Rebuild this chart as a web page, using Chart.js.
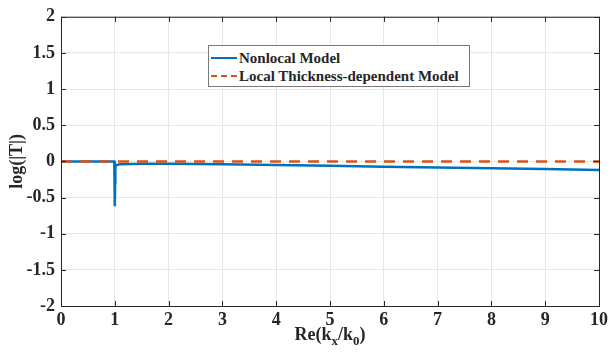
<!DOCTYPE html>
<html lang="en">
<head>
  <meta charset="UTF-8">
  <title>log(|T|) vs Re(kx/k0)</title>
  <script src="https://cdn.jsdelivr.net/npm/chart.js"></script>
  <style>
    html, body {
      margin: 0;
      padding: 0;
      background: #ffffff;
    }
    #wrap {
      position: relative;
      width: 612px;
      height: 358px;
    }
    #legendBox {
      position: absolute;
      left: 208px;
      top: 45px;
      width: 262px;
      height: 42px;
      background: #fff;
      border: 1px solid #7a7a7a;
      font-family: "Liberation Serif", serif;
      font-weight: bold;
      font-size: 15px;
      color: #262626;
      box-sizing: border-box;
      padding: 3px 0 0 2px;
      line-height: 18px;
    }
    #legendBox .row { display: flex; align-items: center; white-space: nowrap; }
    #legendBox .sw { width: 26px; height: 0; margin-right: 2px; }
  </style>
</head>
<body>
  <div id="wrap">
    <canvas id="chart" width="612" height="358"></canvas>
    <div id="legendBox">
      <div class="row"><span class="sw" style="border-top:2.5px solid #0072BD"></span>Nonlocal Model</div>
      <div class="row"><span class="sw" style="border-top:2.5px dashed #D95319"></span>Local Thickness-dependent Model</div>
    </div>
  </div>

  <script>
    // data
    const nonlocalX = [0, 0.5, 0.99, 1.0, 1.005, 1.01, 1.03, 1.1, 1.3, 1.6, 2, 3, 4, 5, 6, 7, 8, 9, 10];
    const nonlocalY = [0, 0, 0, -0.62, -0.3, -0.07, -0.05, -0.04, -0.035, -0.033, -0.033, -0.04, -0.05, -0.06, -0.073, -0.085, -0.095, -0.106, -0.12];
    const localX = [0, 10];
    const localY = [0, 0];
    const xTicks = [0, 1, 2, 3, 4, 5, 6, 7, 8, 9, 10];
    const yTicks = [-2, -1.5, -1, -0.5, 0, 0.5, 1, 1.5, 2];

    const pts = (xs, ys) => xs.map((x, i) => ({ x, y: ys[i] }));
    const serif = "Liberation Serif";

    // box, inward ticks and axis titles like the original figure
    const frame = {
      id: 'frame',
      afterDraw(chart) {
        const { ctx, chartArea: a, scales } = chart;
        ctx.save();
        ctx.strokeStyle = '#262626';
        ctx.lineWidth = 1;
        ctx.strokeRect(a.left + 0.5, a.top + 0.5, a.right - a.left, a.bottom - a.top);
        ctx.beginPath();
        xTicks.forEach(t => {
          const px = Math.round(scales.x.getPixelForValue(t)) + 0.5;
          ctx.moveTo(px, a.bottom); ctx.lineTo(px, a.bottom - 5);
          ctx.moveTo(px, a.top); ctx.lineTo(px, a.top + 5);
        });
        yTicks.forEach(t => {
          const py = Math.round(scales.y.getPixelForValue(t)) + 0.5;
          ctx.moveTo(a.left, py); ctx.lineTo(a.left + 5, py);
          ctx.moveTo(a.right, py); ctx.lineTo(a.right - 5, py);
        });
        ctx.stroke();

        ctx.fillStyle = '#262626';
        // x title: Re(k_x/k_0)
        const cx = (a.left + a.right) / 2;
        const parts = [['Re(k', 18, 0], ['x', 13, 5], ['/k', 18, 0], ['0', 13, 5], [')', 18, 0]];
        let total = 0;
        parts.forEach(p => { ctx.font = `bold ${p[1]}px "${serif}"`; total += ctx.measureText(p[0]).width; });
        let x = cx - total / 2;
        ctx.textBaseline = 'alphabetic';
        ctx.textAlign = 'left';
        parts.forEach(p => {
          ctx.font = `bold ${p[1]}px "${serif}"`;
          ctx.fillText(p[0], x, 340 + p[2]);
          x += ctx.measureText(p[0]).width;
        });
        // y title
        ctx.translate(22, (a.top + a.bottom) / 2);
        ctx.rotate(-Math.PI / 2);
        ctx.textAlign = 'center';
        ctx.font = `bold 18px "${serif}"`;
        ctx.fillText('log(|T|)', 0, 0);
        ctx.restore();
      }
    };

    new Chart(document.getElementById('chart'), {
      type: 'scatter',
      data: {
        datasets: [
          {
            label: 'Nonlocal Model',
            data: pts(nonlocalX, nonlocalY),
            showLine: true,
            borderColor: '#0072BD',
            borderWidth: 2.5,
            pointRadius: 0,
            tension: 0,
            order: 1
          },
          {
            label: 'Local Thickness-dependent Model',
            data: pts(localX, localY),
            showLine: true,
            borderColor: '#D95319',
            borderWidth: 2.5,
            borderDash: [11, 8],
            pointRadius: 0,
            order: 0
          }
        ]
      },
      options: {
        responsive: false,
        animation: false,
        layout: { padding: { top: 14, right: 9, left: 0, bottom: 0 } },
        plugins: {
          legend: { display: false },
          tooltip: { enabled: false }
        },
        scales: {
          x: {
            type: 'linear',
            min: 0, max: 10,
            afterBuildTicks: s => { s.ticks = xTicks.map(v => ({ value: v })); },
            afterFit: s => { s.height = 52; },
            grid: { color: '#e6e6e6', drawTicks: false },
            border: { display: false },
            ticks: {
              padding: 4,
              color: '#262626',
              font: { family: serif, weight: 'bold', size: 18 },
              callback: v => String(v)
            }
          },
          y: {
            min: -2, max: 2,
            afterBuildTicks: s => { s.ticks = yTicks.map(v => ({ value: v })); },
            afterFit: s => { s.width = 61; },
            grid: { color: '#e6e6e6', drawTicks: false },
            border: { display: false },
            ticks: {
              padding: 6,
              color: '#262626',
              font: { family: serif, weight: 'bold', size: 18 },
              callback: v => String(v)
            }
          }
        }
      },
      plugins: [frame]
    });
  </script>
</body>
</html>
